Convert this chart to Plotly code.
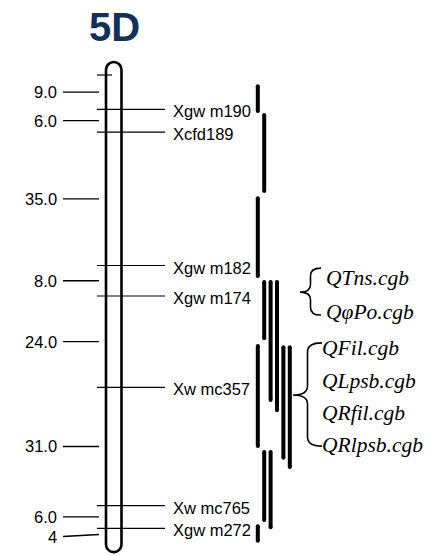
import plotly.graph_objects as go

# ---------------- data ----------------
chrom_name = "5D"
# genetic distances (cM) between successive markers (last one = distance to chromosome end)
interval_cm = [9.0, 6.0, 35.0, 8.0, 24.0, 31.0, 6.0, 4]
interval_labels = ["9.0", "6.0", "35.0", "8.0", "24.0", "31.0", "6.0", "4"]
# marker names at cumulative positions (first position 0 is unnamed)
marker_names = ["", "Xgw m190", "Xcfd189", "Xgw m182", "Xgw m174",
                "Xw mc357", "Xw mc765", "Xgw m272"]

# QTL confidence intervals (cM) and lane index
qtl_start = [2.4, 10.0, 31.8, 53.8, 53.8, 53.8, 70.6, 70.9, 70.9, 98.4, 98.4, 117.9]
qtl_end = [10.0, 31.0, 53.3, 69.6, 85.8, 88.5, 97.9, 101.0, 103.4, 117.3, 119.2, 122.8]
qtl_lane = [0, 1, 0, 1, 2, 3, 0, 4, 5, 1, 2, 0]

qtl_group1 = ["QTns.cgb", "QφPo.cgb"]
qtl_group2 = ["QFil.cgb", "QLpsb.cgb", "QRfil.cgb", "QRlpsb.cgb"]

# ---------------- derived positions ----------------
marker_pos = [0.0]
for d in interval_cm[:-1]:
    marker_pos.append(marker_pos[-1] + d)
chrom_end = marker_pos[-1] + interval_cm[-1]
bounds = marker_pos + [chrom_end]
interval_mid = [(bounds[i] + bounds[i + 1]) / 2 for i in range(len(interval_cm))]

# ---------------- style constants ----------------
W, H = 437, 555
PX_PER_CM = 3.81
Y0_PX = 75.0  # pixel row of 0 cM
y_top = -Y0_PX / PX_PER_CM
y_bot = (H - Y0_PX) / PX_PER_CM

def px2cm(dpx):
    return dpx / PX_PER_CM

SANS = "Liberation Sans, Arial, sans-serif"
SERIF = "Liberation Serif, Times New Roman, serif"

fig = go.Figure()
shapes = []
annotations = []

# chromosome outline (rounded rectangle)
L, R = 106.0, 121.5
r = (R - L) / 2
cx = (L + R) / 2
rcm = px2cm(r)
top = -px2cm(13)
bot = chrom_end + px2cm(8.5)
k = 0.5523
yct, ycb = top + rcm, bot - rcm
path = (f"M {L},{ycb} L {L},{yct} "
        f"C {L},{yct - k*rcm} {cx - k*r},{top} {cx},{top} "
        f"C {cx + k*r},{top} {R},{yct - k*rcm} {R},{yct} "
        f"L {R},{ycb} "
        f"C {R},{ycb + k*rcm} {cx + k*r},{bot} {cx},{bot} "
        f"C {cx - k*r},{bot} {L},{ycb + k*rcm} {L},{ycb} Z")
shapes.append(dict(type="path", path=path, xref="x", yref="y",
                   line=dict(color="black", width=2.6), fillcolor="rgba(0,0,0,0)"))

# marker lines and names
for pos, name in zip(marker_pos, marker_names):
    x1 = 165 if name else 112
    shapes.append(dict(type="line", xref="x", yref="y", x0=97, x1=x1, y0=pos, y1=pos,
                       line=dict(color="black", width=1.2)))
    if name:
        annotations.append(dict(x=171, y=pos + px2cm(2), xref="x", yref="y", text=name,
                                showarrow=False, xanchor="left", yanchor="middle",
                                font=dict(family=SANS, size=16.5, color="black")))

# interval distance labels
for i, (mid, lab) in enumerate(zip(interval_mid, interval_labels)):
    last = i == len(interval_mid) - 1
    yl = mid + (px2cm(0.5) if last else 0)
    yr = mid - (px2cm(1.5) if last else 0)
    shapes.append(dict(type="line", xref="x", yref="y", x0=63, x1=99, y0=yl, y1=yr,
                       line=dict(color="black", width=1.3)))
    annotations.append(dict(x=59, y=yl, xref="x", yref="y", text=lab, showarrow=False,
                            xanchor="right", yanchor="middle",
                            font=dict(family=SANS, size=16.5, color="black")))

# QTL bars
LANE_X0, LANE_DX = 257.8, 6.4
cap = px2cm(2)
bx, by = [], []
for s, e, ln in zip(qtl_start, qtl_end, qtl_lane):
    x = LANE_X0 + ln * LANE_DX
    bx += [x, x, None]
    by += [s + cap, e - cap, None]
fig.add_trace(go.Scatter(x=bx, y=by, mode="lines+markers",
                         line=dict(color="black", width=4),
                         marker=dict(color="black", size=4),
                         hoverinfo="skip", showlegend=False))

# braces
def brace(x_tip, x_end, yt, yb, ymid, ry):
    xm = (x_tip + x_end) / 2
    return (f"M {x_end},{yt} Q {xm},{yt} {xm},{yt + ry} "
            f"L {xm},{ymid - ry} Q {xm},{ymid} {x_tip},{ymid} "
            f"Q {xm},{ymid} {xm},{ymid + ry} "
            f"L {xm},{yb - ry} Q {xm},{yb} {x_end},{yb}")

g1_y = [53.4, 62.1]
g2_y = [71.7, 80.2, 88.6, 97.0]
shapes.append(dict(type="path", xref="x", yref="y",
                   path=brace(300, 321, 50.7, 63.0, 57.0, 2.0),
                   line=dict(color="black", width=1.6)))
shapes.append(dict(type="path", xref="x", yref="y",
                   path=brace(293, 322, 70.3, 97.4, 84.0, 2.4),
                   line=dict(color="black", width=1.6)))
for lab, yy in zip(qtl_group1, g1_y):
    annotations.append(dict(x=324, y=yy, xref="x", yref="y", text=f"<i>{lab}</i>",
                            showarrow=False, xanchor="left", yanchor="middle",
                            font=dict(family=SERIF, size=21.5, color="black")))
for lab, yy in zip(qtl_group2, g2_y):
    annotations.append(dict(x=320, y=yy, xref="x", yref="y", text=f"<i>{lab}</i>",
                            showarrow=False, xanchor="left", yanchor="middle",
                            font=dict(family=SERIF, size=21.5, color="black")))

# title
annotations.append(dict(x=114, y=-12.5, xref="x", yref="y", text=f"<b>{chrom_name}</b>",
                        showarrow=False, xanchor="center", yanchor="middle",
                        font=dict(family=SANS, size=40, color="#12305a")))

fig.update_layout(
    width=W, height=H, margin=dict(l=0, r=0, t=0, b=0),
    paper_bgcolor="white", plot_bgcolor="white",
    xaxis=dict(range=[0, W], visible=False, fixedrange=True),
    yaxis=dict(range=[y_bot, y_top], visible=False, fixedrange=True),
    shapes=shapes, annotations=annotations, showlegend=False,
)
fig.write_html("out.html", config={"displayModeBar": False},
               post_script="document.body.style.margin='0px';")
